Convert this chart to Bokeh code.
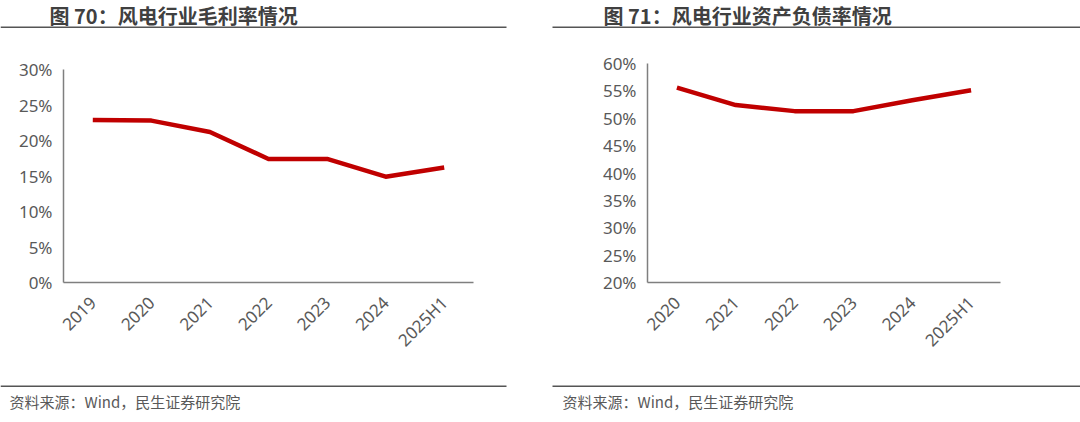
import math
from bokeh.plotting import figure
from bokeh.layouts import row, column
from bokeh.models import (NumeralTickFormatter, FixedTicker, FactorRange, Range1d)
from bokeh.core.properties import value
from bokeh.embed import file_html
from bokeh.resources import INLINE

# ---- data ----
left_title = "图 70：风电行业毛利率情况"
left_cats = ["2019", "2020", "2021", "2022", "2023", "2024", "2025H1"]
left_vals = [0.229, 0.228, 0.212, 0.174, 0.174, 0.149, 0.162]
left_ticks = [0.0, 0.05, 0.10, 0.15, 0.20, 0.25, 0.30]

right_title = "图 71：风电行业资产负债率情况"
right_cats = ["2020", "2021", "2022", "2023", "2024", "2025H1"]
right_vals = [0.556, 0.524, 0.513, 0.513, 0.533, 0.551]
right_ticks = [0.20, 0.25, 0.30, 0.35, 0.40, 0.45, 0.50, 0.55, 0.60]

source_text = "资料来源：Wind，民生证券研究院"

RED = "#C00000"
GRAY_TXT = "#595959"
AXIS = "#7f7f7f"
RULE = "#555555"
CJK = "Noto Sans CJK SC"
LAT = "Noto Sans"
W = 540


def strip(height):
    s = figure(width=W, height=height, x_range=Range1d(0, W), y_range=Range1d(height, 0),
               x_axis_type=None, y_axis_type=None, output_backend="svg",
               toolbar_location=None, min_border=0, frame_align=False)
    s.outline_line_color = None
    s.xgrid.visible = False
    s.ygrid.visible = False
    return s


def panel(title, cats, vals, ticks, mb_left, mb_right, mb_top, title_x, rule_x0, rule_x1, src_x):
    top = strip(30)
    top.text(x=[title_x], y=[14.5], text=[title], text_font=value(CJK), text_font_size="20px",
             text_font_style="bold", text_color="#404040", text_baseline="middle", text_align="left")
    top.segment(x0=[rule_x0], y0=[26.7], x1=[rule_x1], y1=[26.7], line_color=RULE, line_width=1.5)

    H = 348
    p = figure(width=W, height=H, x_range=FactorRange(*cats, range_padding=0),
               y_range=(ticks[0], ticks[-1]), output_backend="svg", toolbar_location=None,
               min_border_left=mb_left, min_border_right=mb_right,
               min_border_top=mb_top, min_border_bottom=96, frame_align=False)
    p.outline_line_color = None
    p.xgrid.visible = False
    p.ygrid.visible = False

    p.line(cats, vals, line_color=RED, line_width=4.5, line_join="round")

    for ax in (p.xaxis[0], p.yaxis[0]):
        ax.axis_line_color = AXIS
        ax.axis_line_width = 1.5
        ax.major_tick_line_color = None
        ax.minor_tick_line_color = None
        ax.major_tick_out = 0
        ax.major_tick_in = 0
        ax.major_label_text_font = LAT
        ax.major_label_text_font_size = "17px"
        ax.major_label_text_color = GRAY_TXT
    p.yaxis[0].ticker = FixedTicker(ticks=ticks)
    p.yaxis[0].formatter = NumeralTickFormatter(format="0%")
    p.yaxis[0].major_label_standoff = 11
    p.xaxis[0].major_label_orientation = math.pi / 4
    p.xaxis[0].major_label_standoff = 17

    bot = strip(44)
    bot.segment(x0=[rule_x0], y0=[7.7], x1=[rule_x1], y1=[7.7], line_color=RULE, line_width=1.5)
    bot.text(x=[src_x], y=[23], text=[source_text], text_font=value(CJK), text_font_size="15px",
             text_color=GRAY_TXT, text_baseline="middle", text_align="left")
    return column(top, p, bot, spacing=0)


c1 = panel(left_title, left_cats, left_vals, left_ticks, 63, 67, 39, 49, 0, 506, 9)
c2 = panel(right_title, right_cats, right_vals, right_ticks, 107, 80, 33, 63, 12, 540, 22)

layout = row(c1, c2, spacing=0)
open("out.html", "w").write(file_html(layout, INLINE))
